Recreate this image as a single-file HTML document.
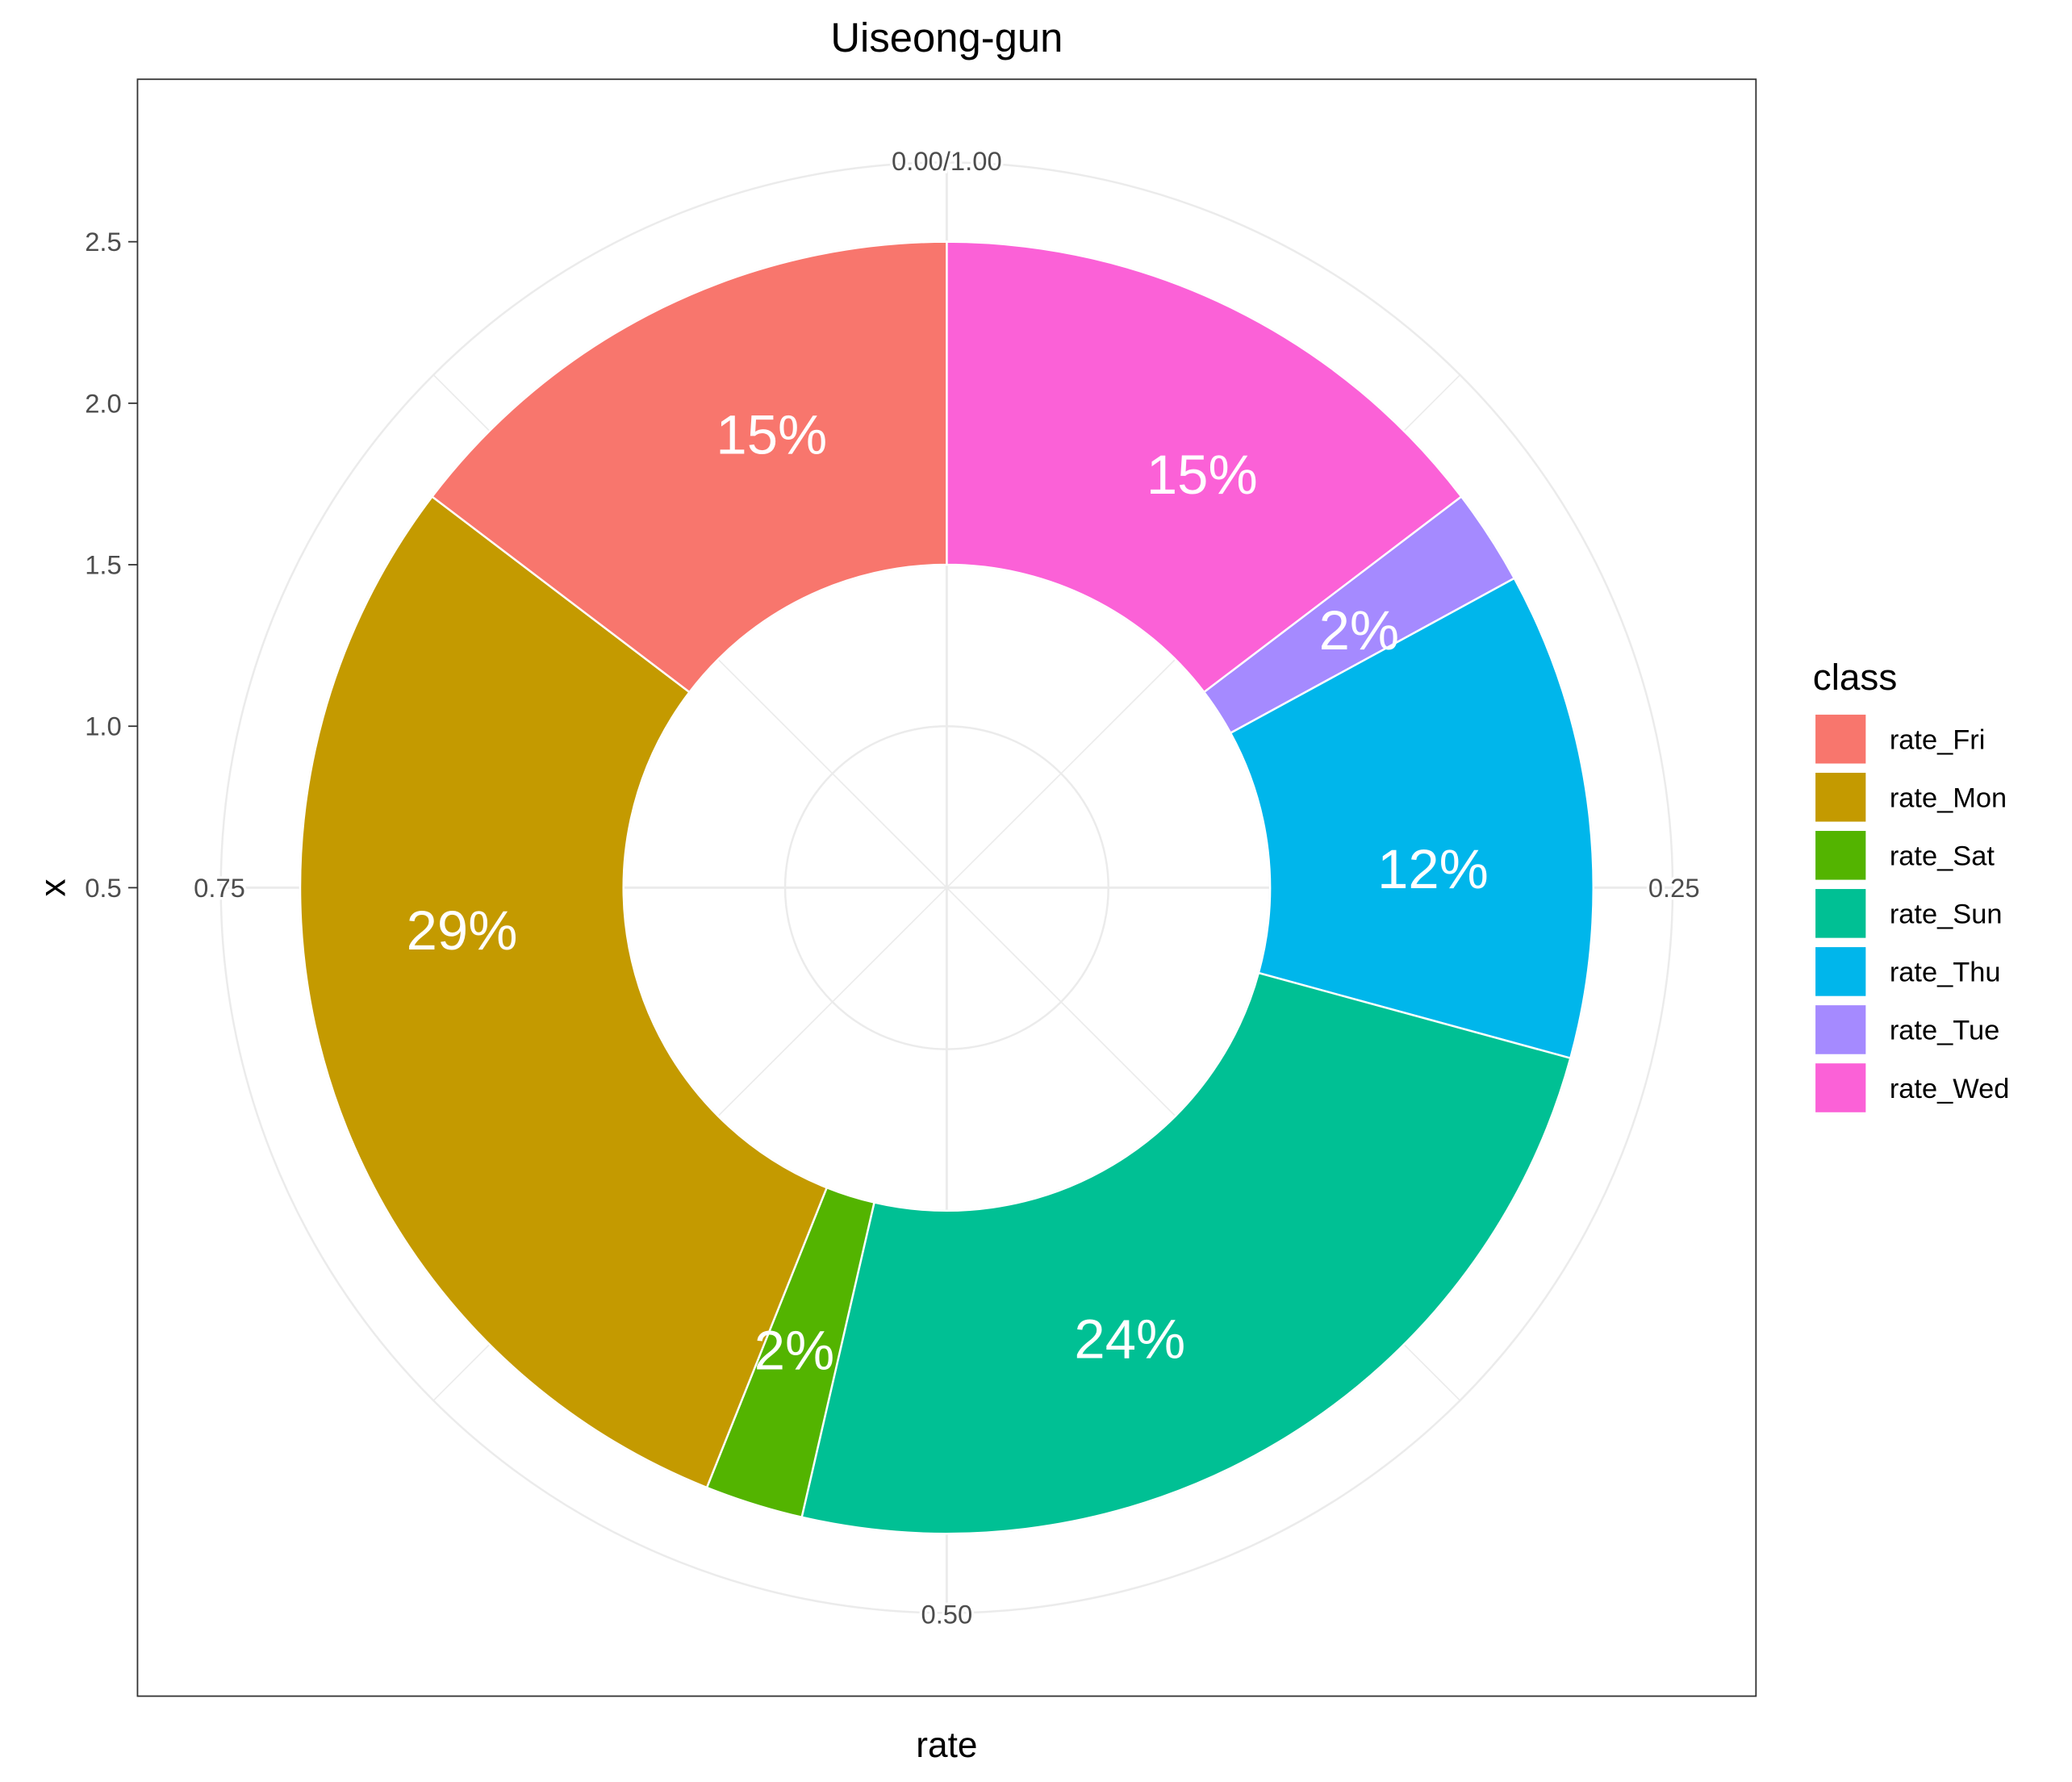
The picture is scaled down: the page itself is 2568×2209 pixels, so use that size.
<!DOCTYPE html>
<html><head><meta charset="utf-8"><style>
html,body{margin:0;padding:0;background:#fff}
svg{display:block;font-family:"Liberation Sans",Arial,sans-serif}
</style></head><body>
<svg id="chart" width="2568" height="2209" viewBox="0 0 1567 1349" preserveAspectRatio="none" xmlns="http://www.w3.org/2000/svg">
<rect x="0" y="0" width="1567" height="1349" fill="#fff"/>
<text x="716" y="39" font-size="31" text-anchor="middle" fill="#000">Uiseong-gun</text>
<g id="grid"></g>
<g id="slices"></g>
<g id="labels"></g>
<rect x="104" y="60" width="1224" height="1224" fill="none" stroke="#333" stroke-width="1.1"/>
<g id="yaxis"></g>
<text x="0" y="0" font-size="27" text-anchor="middle" transform="translate(49,672) rotate(-90)">x</text>
<text x="716" y="1330" font-size="27" text-anchor="middle">rate</text>
<g id="legend">
<text x="1371" y="522" font-size="28">class</text>
</g>
</svg>
<script>
const categories = ["rate_Wed","rate_Tue","rate_Thu","rate_Sun","rate_Sat","rate_Mon","rate_Fri"];
const values = [0.1465,0.024,0.122,0.2435,0.0245,0.293,0.1465];
const labelsText = ["15%","2%","12%","24%","2%","29%","15%"];
const legendOrder = ["rate_Fri","rate_Mon","rate_Sat","rate_Sun","rate_Thu","rate_Tue","rate_Wed"];
const yTicks = [0.5,1.0,1.5,2.0,2.5];
const thetaTicks = ["0.00/1.00","0.25","0.50","0.75"];
const colors = {rate_Fri:"#F8766D",rate_Mon:"#C49A00",rate_Sat:"#53B400",rate_Sun:"#00C094",rate_Thu:"#00B6EB",rate_Tue:"#A58AFF",rate_Wed:"#FB61D7"};

const NS="http://www.w3.org/2000/svg";
const cx=716, cy=672;
function rScale(x){return (x-0.5)*244.5;}
function pt(frac,r){const a=frac*2*Math.PI;return [cx+r*Math.sin(a), cy-r*Math.cos(a)];}
function mk(tag,attrs,parent){const e=document.createElementNS(NS,tag);for(const k in attrs)e.setAttribute(k,attrs[k]);parent.appendChild(e);return e;}

const grid=document.getElementById('grid');
[1.0,1.5,2.0,2.5].forEach(v=>{
  const c=mk('circle',{cx:cx,cy:cy,r:rScale(v),fill:'none',stroke:'#ebebeb','stroke-width':1.5},grid);
  
  
});
const outerR=549;
const oc=mk('circle',{cx:cx,cy:cy,r:outerR,fill:'none',stroke:'#ebebeb','stroke-width':1.5},grid);


for(let i=0;i<8;i++){
  const p=pt(i/8,outerR);
  const l=mk('line',{x1:cx,y1:cy,x2:p[0],y2:p[1],stroke:'#ebebeb','stroke-width':i%2?1:1.8},grid);
  
  
}
thetaTicks.forEach((t,i)=>{
  const p=pt(i/4,outerR+1);
  const tx=mk('text',{x:p[0],y:p[1]+7,'font-size':20,fill:'#4d4d4d','text-anchor':'middle',stroke:'#fff','stroke-width':4,'paint-order':'stroke'},grid);
  tx.textContent=t;
  
  
});

const slices=document.getElementById('slices');
const labels=document.getElementById('labels');
const r0=rScale(1.5), r1=rScale(2.5);
let cum=0;
categories.forEach((cat,i)=>{
  const s=cum, e=cum+values[i]; cum=e;
  const a=pt(s,r1), b=pt(e,r1), c=pt(e,r0), d=pt(s,r0);
  const large=(e-s)>0.5?1:0;
  const dStr=`M${a[0]},${a[1]} A${r1},${r1} 0 ${large} 1 ${b[0]},${b[1]} L${c[0]},${c[1]} A${r0},${r0} 0 ${large} 0 ${d[0]},${d[1]} Z`;
  const p=mk('path',{d:dStr,fill:colors[cat],stroke:'#fff','stroke-width':1.5},slices);
  
  
  const lp=pt(s+0.6*(e-s),368);
  const t=mk('text',{x:lp[0],y:lp[1]+15,'font-size':42,fill:'#fff','text-anchor':'middle'},labels);
  t.textContent=labelsText[i];
  
  
});

const yaxis=document.getElementById('yaxis');
yTicks.forEach(v=>{
  const y=cy-rScale(v);
  const l=mk('line',{x1:97,y1:y,x2:104,y2:y,stroke:'#333','stroke-width':1.1},yaxis);
  
  
  const t=mk('text',{x:92,y:y+7,'font-size':20,fill:'#4d4d4d','text-anchor':'end'},yaxis);
  t.textContent=v.toFixed(1);
  
  
});

const legend=document.getElementById('legend');
legendOrder.forEach((cat,i)=>{
  const y=541+i*44;
  const r=mk('rect',{x:1373,y:y,width:38,height:37,fill:colors[cat]},legend);
  
  
  const t=mk('text',{x:1429,y:y+26,'font-size':21,fill:'#000'},legend);
  t.textContent=cat;
  
  
});
</script>
</body></html>
